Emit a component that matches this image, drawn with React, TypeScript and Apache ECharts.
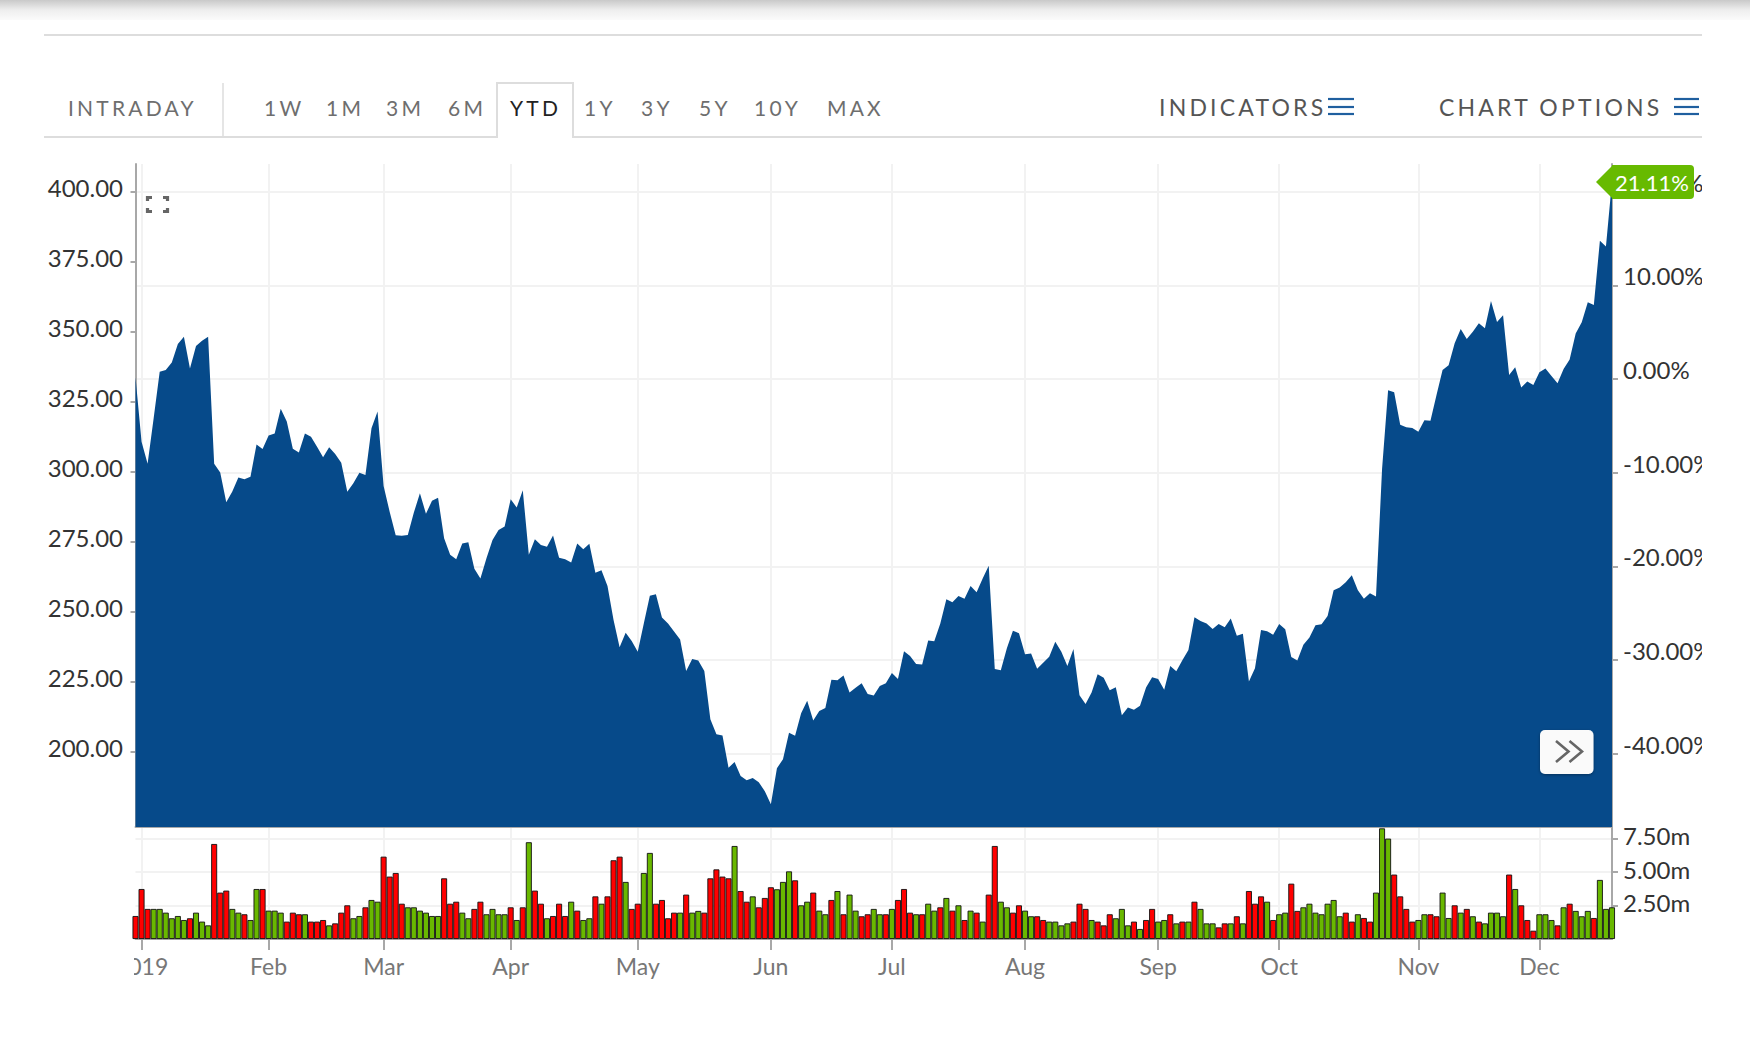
import React, { useEffect, useRef } from "react";
import * as echarts from "echarts";

const priceTicks = [200, 225, 250, 275, 300, 325, 350, 375, 400];
const percentTicks = [-40, -30, -20, -10, 0, 10, 20];
const volumeTicks = [2.5, 5, 7.5];
const monthTickIndex = [1, 22, 41, 62, 83, 105, 125, 147, 169, 189, 212, 232];
const monthLabels = ["2019", "Feb", "Mar", "Apr", "May", "Jun", "Jul", "Aug", "Sep", "Oct", "Nov", "Dec"];
const tabLabels = ["INTRADAY", "1W", "1M", "3M", "6M", "YTD", "1Y", "3Y", "5Y", "10Y", "MAX"];
const menuLabels = ["INDICATORS", "CHART OPTIONS"];
const badgeLabel = "21.11%";

const prices = [
  333.8, 310.8, 302.9, 319.2, 335.8, 336.4, 339.1, 345.7, 348.3, 337.0, 345.0, 346.9, 348.3, 302.9, 299.8, 289.2, 293.0, 298.0, 297.4, 298.3,
  309.8, 308.2, 313.0, 313.7, 322.6, 318.0, 308.3, 307.0, 313.7, 312.6, 309.0, 305.3, 308.8, 306.4, 303.3, 292.9, 296.0, 299.7, 298.9, 315.6,
  321.6, 295.0, 285.8, 277.4, 277.2, 277.5, 285.5, 292.4, 285.1, 289.7, 290.8, 276.3, 270.4, 268.8, 274.5, 274.9, 265.4, 262.0, 269.2, 275.7,
  279.3, 280.5, 290.3, 287.3, 293.5, 270.4, 276.0, 273.9, 273.3, 277.3, 269.4, 268.8, 267.7, 274.5, 272.4, 274.4, 264.0, 264.9, 259.3, 247.1,
  237.4, 242.6, 239.6, 235.8, 245.9, 255.8, 256.3, 248.0, 245.9, 243.0, 240.2, 228.9, 233.2, 232.7, 228.9, 211.7, 206.3, 205.9, 194.4, 196.4,
  191.4, 189.9, 190.7, 189.2, 186.0, 181.3, 194.2, 197.4, 206.9, 205.8, 213.8, 218.3, 211.2, 214.6, 215.7, 225.8, 225.6, 227.3, 221.2, 222.9,
  224.5, 220.7, 220.2, 223.6, 224.5, 228.2, 226.1, 236.0, 234.3, 231.4, 231.2, 239.8, 239.5, 245.9, 254.5, 253.5, 255.7, 254.7, 259.3, 257.0,
  262.0, 266.5, 229.6, 229.2, 237.0, 243.3, 242.4, 234.9, 235.2, 229.7, 231.9, 234.0, 239.4, 235.8, 230.7, 236.8, 220.3, 217.1, 221.2, 227.8,
  226.5, 222.0, 223.1, 213.1, 215.9, 215.1, 216.5, 223.0, 226.7, 226.1, 222.2, 230.7, 228.8, 232.8, 236.4, 248.1, 246.8, 245.9, 243.9, 245.7,
  244.5, 247.7, 241.5, 242.2, 225.2, 229.9, 243.6, 243.1, 241.9, 245.7, 243.8, 233.9, 232.7, 238.3, 240.9, 245.3, 245.6, 248.6, 257.8, 258.7,
  260.6, 263.1, 257.8, 254.7, 256.7, 255.5, 301.0, 329.2, 328.5, 316.9, 316.0, 315.7, 314.4, 318.5, 318.3, 327.5, 336.4, 338.1, 346.0, 351.1,
  347.5, 350.1, 353.1, 351.3, 361.1, 353.6, 356.0, 334.6, 337.4, 330.2, 332.3, 331.1, 335.6, 337.0, 334.3, 331.7, 336.8, 340.2, 349.5, 353.5,
  360.6, 359.6, 382.6, 380.5, 403.8,
];

const volumes = [
  1.72, 3.74, 2.25, 2.25, 2.25, 1.97, 1.55, 1.72, 1.42, 1.55, 1.97, 1.3, 1.02, 7.11, 3.47, 3.62, 2.25, 1.97, 1.85, 1.42,
  3.74, 3.74, 2.12, 2.12, 1.97, 1.3, 1.97, 1.85, 1.85, 1.3, 1.3, 1.42, 1.02, 1.17, 1.97, 2.52, 1.55, 1.72, 2.37, 2.92,
  2.79, 6.16, 4.67, 4.94, 2.64, 2.37, 2.37, 2.12, 1.97, 1.72, 1.72, 4.54, 2.64, 2.79, 1.97, 1.55, 2.25, 2.79, 1.85, 2.25,
  1.85, 1.85, 2.37, 1.42, 2.37, 7.24, 3.62, 2.64, 1.55, 1.72, 2.64, 1.72, 2.79, 2.12, 1.42, 1.55, 3.19, 2.64, 3.19, 5.89,
  6.16, 4.27, 2.25, 2.64, 4.94, 6.44, 2.64, 2.92, 1.55, 1.97, 1.97, 3.32, 1.97, 2.1, 1.97, 4.54, 5.21, 4.67, 4.54, 6.96,
  3.59, 2.79, 3.19, 2.37, 3.07, 3.87, 3.72, 4.27, 5.06, 4.39, 2.52, 2.79, 3.47, 2.12, 1.85, 2.92, 3.59, 1.85, 3.32, 2.12,
  1.7, 1.85, 2.25, 1.85, 1.85, 2.25, 2.92, 3.74, 1.97, 1.85, 1.85, 2.64, 2.12, 2.37, 3.07, 2.12, 2.52, 1.42, 2.12, 1.97,
  1.3, 3.32, 6.96, 2.79, 2.37, 1.97, 2.52, 2.12, 1.7, 1.7, 1.42, 1.3, 1.3, 1.02, 1.17, 1.3, 2.64, 2.25, 1.42, 1.3,
  1.02, 1.85, 1.55, 2.25, 1.02, 1.3, 0.75, 1.42, 2.25, 1.3, 1.42, 1.85, 1.17, 1.3, 1.3, 2.79, 2.25, 1.17, 1.17, 0.87,
  1.17, 1.17, 1.7, 1.17, 3.59, 2.64, 3.19, 2.79, 1.42, 1.85, 1.97, 4.14, 2.1, 2.37, 2.64, 1.97, 1.85, 2.64, 2.92, 1.7,
  1.97, 1.3, 1.85, 1.57, 1.3, 3.47, 8.28, 7.51, 4.82, 3.19, 2.25, 1.3, 1.42, 1.85, 1.85, 1.7, 3.47, 1.57, 2.52, 1.97,
  2.25, 1.7, 1.3, 1.17, 1.97, 1.97, 1.7, 4.82, 3.74, 2.52, 1.42, 0.62, 1.85, 1.85, 1.42, 1.02, 2.37, 2.64, 2.1, 1.7,
  2.1, 1.57, 4.42, 2.25, 2.37,
];

// r = volume on a falling day, g = volume on a rising day
const volumeSides = [
  "rrrggggggrgggrrrggrg", "grgggrrrgrrrgrrrggrg", "grrrrggggggrrrggrrgg", "ggrgrgrrgrrrgrggrgrr",
  "rgrrggrrrrgrggrrrrrg", "rrgrrrgggrggrggrgrgg", "rrggrgrrrgrggrgrgrgr", "grrggrrggrrggggrrrgr",
  "rrgggrgrrggrgrgrgggr", "rgrgrrrgrggrrggggggg", "rrgrrgggrrrrggrrggrg", "rgrggggrgrrrgggrgrgg",
  "grggg",
].join("").split("");

const colors = {
  area: "#064a8a",
  axis: "#a8a8a8",
  grid: "#f2f2f2",
  up: "#69b800",
  down: "#ff0000",
  badge: "#67ba00",
};
const font = "Lato";

const labelAt: Record<number, string> = {};
monthTickIndex.forEach((idx, k) => {
  labelAt[idx] = monthLabels[k];
});
const categories = prices.map((_, i) => labelAt[i] ?? String(i));
const isMonth = (idx: number) => labelAt[idx] !== undefined;

const menuBars = (x0: number, x1: number) =>
  [99, 107, 114].map((y) => ({
    type: "line",
    shape: { x1: x0, y1: y, x2: x1, y2: y },
    style: { stroke: "#1f5f9f", lineWidth: 2.2 },
  }));

const corner = (points: number[][]) => ({
  type: "polyline",
  shape: { points },
  style: { stroke: "#666", lineWidth: 3.2, fill: "none" },
});

export default function App() {
  const mainRef = useRef<HTMLDivElement>(null);
  const headRef = useRef<HTMLDivElement>(null);

  useEffect(() => {
    document.body.style.margin = "0";
    document.body.style.background = "#fff";
    const chart = echarts.init(mainRef.current!, undefined, { renderer: "svg" });
    const head = echarts.init(headRef.current!, undefined, { renderer: "svg" });

    chart.setOption({
      animation: false,
      backgroundColor: "#fff",
      grid: [
        { left: 135.5, top: 164, width: 1476.5, height: 663, outerBoundsMode: "none" },
        { left: 135.5, top: 827, width: 1476.5, height: 112, outerBoundsMode: "none" },
      ],
      xAxis: [
        {
          type: "category",
          gridIndex: 0,
          data: categories,
          boundaryGap: false,
          axisLine: { show: true, onZero: false, lineStyle: { color: colors.axis, width: 2 } },
          axisTick: { show: false },
          axisLabel: { show: false },
          splitLine: { show: true, interval: isMonth, lineStyle: { color: colors.grid, width: 2 } },
        },
        {
          type: "category",
          gridIndex: 1,
          data: categories,
          boundaryGap: false,
          axisLine: { show: true, onZero: false, lineStyle: { color: colors.axis, width: 2 } },
          axisTick: { show: true, interval: isMonth, length: 11, lineStyle: { color: colors.axis, width: 2 } },
          axisLabel: {
            show: true,
            interval: isMonth,
            margin: 15,
            color: "#777",
            fontFamily: font,
            fontSize: 23,
            formatter: (v: string) => v,
          },
          splitLine: { show: true, interval: isMonth, lineStyle: { color: colors.grid, width: 2 } },
        },
      ],
      yAxis: [
        {
          type: "value",
          gridIndex: 0,
          position: "left",
          min: 173.2,
          max: 410,
          axisLine: { show: true, onZero: false, lineStyle: { color: colors.axis, width: 2 } },
          axisTick: { show: true, customValues: priceTicks, length: 5, lineStyle: { color: colors.axis, width: 2 } },
          axisLabel: {
            customValues: priceTicks,
            margin: 12.5,
            color: "#333",
            fontFamily: font,
            fontSize: 24,
            verticalAlign: "bottom",
            lineHeight: 8,
            formatter: (v: number) => v.toFixed(2),
          },
          splitLine: { show: false },
        },
        {
          type: "value",
          gridIndex: 0,
          position: "right",
          min: -47.8,
          max: 22.95,
          axisLine: { show: true, onZero: false, lineStyle: { color: colors.axis, width: 2 } },
          axisTick: { show: true, customValues: percentTicks, length: 6, lineStyle: { color: colors.axis, width: 2 } },
          axisLabel: {
            customValues: percentTicks,
            margin: 11,
            color: "#333",
            fontFamily: font,
            fontSize: 24,
            verticalAlign: "bottom",
            lineHeight: 19,
            formatter: (v: number) => v.toFixed(2) + "%",
          },
          splitLine: { show: true, lineStyle: { color: colors.grid, width: 2 } },
        },
        {
          type: "value",
          gridIndex: 1,
          position: "right",
          min: 0,
          max: 8.38,
          axisLine: { show: true, onZero: false, lineStyle: { color: colors.axis, width: 2 } },
          axisTick: { show: true, customValues: volumeTicks, length: 6, lineStyle: { color: colors.axis, width: 2 } },
          axisLabel: {
            customValues: volumeTicks,
            margin: 11,
            color: "#333",
            fontFamily: font,
            fontSize: 24,
            verticalAlign: "bottom",
            lineHeight: 6,
            formatter: (v: number) => v.toFixed(2) + "m",
          },
          splitLine: { show: true, lineStyle: { color: colors.grid, width: 2 } },
        },
      ],
      series: [
        {
          type: "line",
          xAxisIndex: 0,
          yAxisIndex: 0,
          data: prices,
          symbol: "none",
          showSymbol: false,
          lineStyle: { width: 0 },
          areaStyle: { color: colors.area, opacity: 1, origin: "start" },
          z: 3,
        },
        {
          type: "bar",
          xAxisIndex: 1,
          yAxisIndex: 2,
          data: volumes.map((v, i) => ({
            value: v,
            itemStyle: { color: volumeSides[i] === "g" ? colors.up : colors.down },
          })),
          barWidth: 6,
          itemStyle: { borderColor: "#111", borderWidth: 0.9 },
          z: 3,
        },
      ],
      graphic: [
        { type: "rect", z: 100, shape: { x: 0, y: 945, width: 134, height: 50 }, style: { fill: "#fff" } },
        corner([[147.5, 201], [147.5, 197.5], [152, 197.5]]),
        corner([[163, 197.5], [167.5, 197.5], [167.5, 201]]),
        corner([[147.5, 208], [147.5, 211.5], [152, 211.5]]),
        corner([[163, 211.5], [167.5, 211.5], [167.5, 208]]),
        {
          type: "rect",
          z: 100,
          shape: { x: 1540, y: 730, width: 53.5, height: 44, r: 5 },
          style: { fill: "#fafafa", shadowBlur: 3, shadowColor: "rgba(0,0,0,0.35)", shadowOffsetY: 1 },
        },
        {
          type: "polyline",
          z: 101,
          shape: { points: [[1556, 741], [1568.5, 751.5], [1556, 762]] },
          style: { stroke: "#666", lineWidth: 2.6, fill: "none" },
        },
        {
          type: "polyline",
          z: 101,
          shape: { points: [[1569.5, 741], [1582, 751.5], [1569.5, 762]] },
          style: { stroke: "#666", lineWidth: 2.6, fill: "none" },
        },
        {
          type: "polygon",
          z: 102,
          shape: { points: [[1596, 182], [1613, 165], [1613, 199]] },
          style: { fill: colors.badge },
        },
        {
          type: "rect",
          z: 102,
          shape: { x: 1612, y: 165, width: 82, height: 34, r: [0, 4, 4, 0] },
          style: { fill: colors.badge },
        },
        {
          type: "text",
          z: 103,
          x: 1652,
          y: 182,
          style: {
            text: badgeLabel,
            fill: "#fff",
            font: `22px ${font}`,
            align: "center",
            verticalAlign: "middle",
          },
        },
      ],
    });

    const tabX = [68, 264, 326, 386, 448, 510, 584, 641, 699, 754, 827];
    head.setOption({
      animation: false,
      graphic: [
        {
          type: "rect",
          shape: { x: 0, y: 0, width: 1750, height: 20 },
          style: {
            fill: new echarts.graphic.LinearGradient(0, 0, 0, 1, [
              { offset: 0, color: "#c9c9c9" },
              { offset: 0.5, color: "#eeeeee" },
              { offset: 1, color: "#fbfbfb" },
            ]),
          },
        },
        { type: "line", shape: { x1: 44, y1: 35, x2: 1702, y2: 35 }, style: { stroke: "#ddd", lineWidth: 2 } },
        {
          type: "polyline",
          shape: { points: [[44, 137], [497, 137], [497, 83], [573, 83], [573, 137], [1702, 137]] },
          style: { stroke: "#ddd", lineWidth: 2, fill: "none" },
        },
        { type: "line", shape: { x1: 223, y1: 83, x2: 223, y2: 137 }, style: { stroke: "#ddd", lineWidth: 1.5 } },
        ...tabLabels.map((t, i) => ({
          type: "text",
          x: tabX[i],
          y: 107,
          style: {
            text: t,
            fill: t === "YTD" ? "#222" : "#6e6e6e",
            font: `21px ${font}`,
            align: "left",
            verticalAlign: "middle",
          },
        })),
        ...menuLabels.map((t, i) => ({
          type: "text",
          x: [1159, 1439][i],
          y: 107,
          style: {
            text: t,
            fill: "#555",
            font: `23px ${font}`,
            align: "left",
            verticalAlign: "middle",
          },
        })),
        ...menuBars(1328, 1354),
        ...menuBars(1674, 1699),
      ],
    });

    return () => {
      chart.dispose();
      head.dispose();
    };
  }, []);

  return (
    <div style={{ position: "relative", width: 1750, height: 1060, overflow: "hidden", background: "#fff" }}>
      <div ref={mainRef} style={{ position: "absolute", left: 0, top: 0, width: 1702, height: 1060 }} />
      <div
        ref={headRef}
        style={{ position: "absolute", left: 0, top: 0, width: 1750, height: 150, letterSpacing: "3.2px" }}
      />
    </div>
  );
}
